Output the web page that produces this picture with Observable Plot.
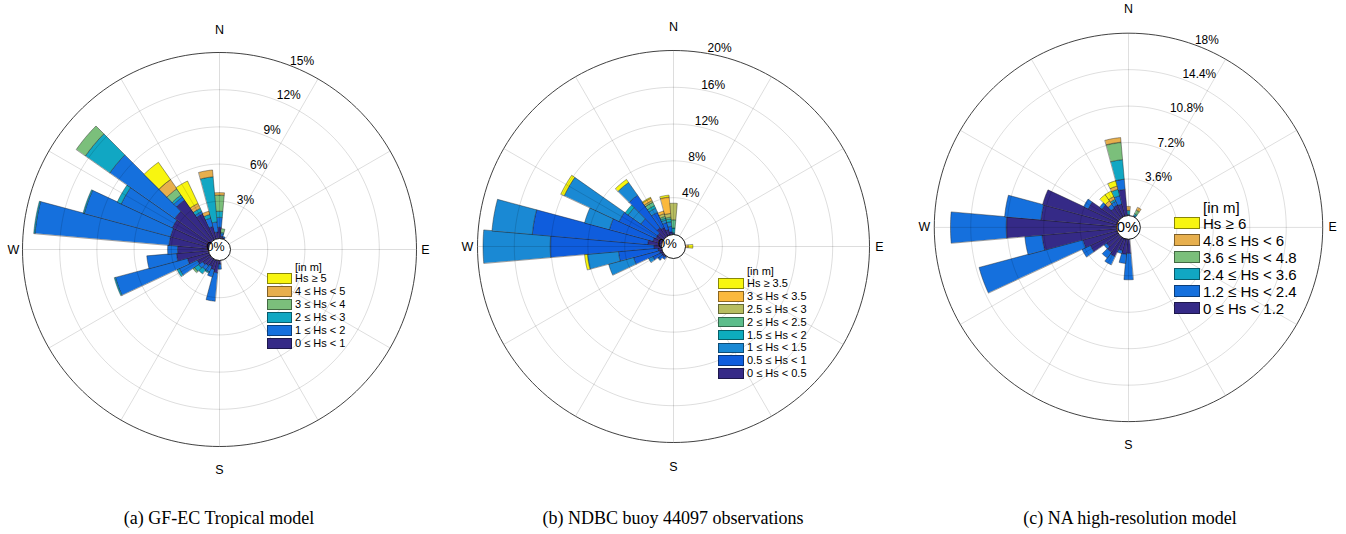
<!DOCTYPE html>
<html>
<head>
<meta charset="utf-8">
<script src="https://cdn.jsdelivr.net/npm/d3@7"></script>
<script src="https://cdn.jsdelivr.net/npm/@observablehq/plot@0.6"></script>
<style>
  body { margin: 0; background: #fff; }
  #page { position: relative; width: 1346px; height: 534px; overflow: hidden; font-family: "Liberation Sans", Arial, sans-serif; color: #000; }
  .rose { position: absolute; }
  .rose svg { overflow: visible; }
  .caption { position: absolute; top: 507px; width: 420px; text-align: center; font-family: "Liberation Serif", "Times New Roman", serif; font-size: 18px; line-height: 22px; }
  .lg { position: absolute; white-space: nowrap; }
  .sw { position: absolute; box-sizing: border-box; border: 1px solid rgba(0,0,0,0.45); }
</style>
</head>
<body>
<div id="page"></div>
<script>
// ---- (a) GF-EC Tropical model: frequency (%) per 10° direction bin and Hs class ----
const gfecDirs   = [0, 10, 20, 180, 190, 200, 210, 220, 230, 240, 250, 260, 270, 280, 290, 300, 310, 320, 330, 340, 350];
const gfecHs0to1 = [0.9, 0.2, 0.1, 0.3, 1.0, 0.8, 0.6, 0.7, 0.8, 1.1, 1.8, 2.6, 2.5, 3.2, 3.2, 3.3, 3.5, 4.0, 2.3, 1.05, 0.53];
const gfecHs1to2 = [0.8, 0.2, 0.1, 0.4, 2.3, 0.6, 0.5, 0.4, 0.4, 1.6, 6.0, 2.4, 0.8, 10.85, 7.2, 4.55, 6.4, 0.3, 0.2, 0.7, 0.81];
const gfecHs2to3 = [0.5, 0.1, 0, 0, 0, 0, 0.1, 0.4, 0.4, 0.2, 0.1, 0, 0, 0.1, 0.1, 0.35, 2.4, 0.2, 0.28, 0.3, 3.66];
const gfecHs3to4 = [1.3, 0.3, 0, 0, 0, 0, 0, 0, 0.15, 0, 0, 0, 0, 0, 0, 0, 0.9, 0.6, 0, 0, 0];
const gfecHs4to5 = [0.2, 0, 0, 0, 0, 0, 0, 0, 0, 0, 0, 0, 0, 0, 0, 0, 0, 0.9, 0.43, 0.27, 0.55];
const gfecHs5up  = [0, 0, 0, 0, 0, 0, 0, 0, 0, 0, 0, 0, 0, 0, 0, 0, 0, 1.7, 2.0, 0, 0];
const gfecTicks  = [3, 6, 9, 12, 15];
const gfecLegend = ["Hs \u2265 5", "4 \u2264 Hs < 5", "3 \u2264 Hs < 4", "2 \u2264 Hs < 3", "1 \u2264 Hs < 2", "0 \u2264 Hs < 1"];

// ---- (b) NDBC buoy 44097 observations ----
const ndbcDirs     = [0, 90, 220, 230, 240, 250, 260, 270, 280, 290, 300, 310, 320, 330, 340, 350];
const ndbcHs0to05  = [0, 0, 0.1, 0.2, 0.2, 0.3, 0.4, 0.8, 1.5, 1.0, 0.8, 0.8, 1.2, 1.0, 0.6, 0.3];
const ndbcHs05to1  = [0.1, 0, 0.3, 0.5, 1.0, 2.9, 4.3, 11.3, 12.6, 4.9, 4.4, 2.2, 4.3, 1.8, 0.8, 0.6];
const ndbcHs1to15  = [0.1, 0, 0, 0.1, 0.5, 2.8, 3.4, 7.3, 4.4, 2.8, 6.6, 1.7, 1.7, 0.5, 0.3, 0.5];
const ndbcHs15to2  = [0.5, 0, 0, 0, 0, 0, 0, 0, 0, 0, 0, 0.4, 0, 0.3, 0.2, 0.3];
const ndbcHs2to25  = [0.9, 0, 0, 0, 0, 0, 0, 0, 0, 0, 0, 0, 0, 0.4, 0.2, 0.2];
const ndbcHs25to3  = [1.8, 0, 0, 0, 0, 0, 0, 0, 0, 0, 0, 0, 0, 0.2, 0.3, 0.4];
const ndbcHs3to35  = [0, 0.3, 0, 0, 0, 0, 0, 0, 0, 0, 0, 0, 0, 0.3, 0.3, 1.8];
const ndbcHs35up   = [0, 0.5, 0, 0, 0, 0, 0.3, 0, 0, 0, 0.4, 0, 0.4, 0.1, 0, 0.2];
const ndbcTicks    = [4, 8, 12, 16, 20];
const ndbcLegend   = ["Hs \u2265 3.5", "3 \u2264 Hs < 3.5", "2.5 \u2264 Hs < 3", "2 \u2264 Hs < 2.5", "1.5 \u2264 Hs < 2", "1 \u2264 Hs < 1.5", "0.5 \u2264 Hs < 1", "0 \u2264 Hs < 0.5"];

// ---- (c) NA high-resolution model ----
const naDirs      = [0, 30, 180, 190, 200, 210, 220, 230, 240, 250, 260, 270, 280, 290, 300, 310, 320, 330, 340, 350];
const naHs0to12   = [0, 0, 1.4, 1.5, 1.2, 2.0, 1.8, 1.5, 3.0, 3.5, 7.4, 10.9, 7.5, 7.6, 3.2, 2.0, 1.2, 1.3, 1.24, 2.6];
const naHs12to24  = [0.1, 0.1, 2.6, 0.9, 0.3, 0.9, 0.7, 0.3, 0.9, 10.6, 1.7, 5.5, 3.6, 0, 0.5, 0.3, 0.45, 0.4, 0.83, 1.0];
const naHs24to36  = [0.4, 0.2, 0, 0, 0, 0, 0, 0, 0, 0, 0, 0, 0, 0, 0, 0, 0, 0.2, 0.66, 1.94];
const naHs36to48  = [0, 0.4, 0, 0, 0, 0, 0, 0, 0, 0, 0, 0, 0, 0, 0, 0, 0, 0, 0, 1.73];
const naHs48to6   = [0.4, 0.3, 0, 0, 0, 0, 0, 0, 0, 0, 0, 0, 0, 0, 0, 0, 0.4, 0.3, 0.33, 0.46];
const naHs6up     = [0, 0, 0, 0, 0, 0, 0, 0, 0, 0, 0, 0, 0, 0, 0, 0, 0.75, 0.6, 0.54, 0];
const naTicks     = [3.6, 7.2, 10.8, 14.4, 18];
const naLegend    = ["Hs \u2265 6", "4.8 \u2264 Hs < 6", "3.6 \u2264 Hs < 4.8", "2.4 \u2264 Hs < 3.6", "1.2 \u2264 Hs < 2.4", "0 \u2264 Hs < 1.2"];

const compassText = ["N", "E", "S", "W"];
const compassBearing = [0, 90, 180, 270];
const captions = ["(a) GF-EC Tropical model", "(b) NDBC buoy 44097 observations", "(c) NA high-resolution model"];

// parula-like ramps, lowest class first
const parula6 = ["#352a87", "#1570dd", "#11a7c3", "#7bbf7b", "#e7af4d", "#f8f510"];
const parula8 = ["#352a87", "#0f5ddd", "#1a89d4", "#0dacbd", "#5cbd8b", "#b7bd60", "#fbb93d", "#f8f70f"];

const panels = [
  { cx: 219, cy: 249, r0: 11, rMax: 197, ticks: gfecTicks, labelAngle: 21, dirs: gfecDirs,
    bins: [gfecHs0to1, gfecHs1to2, gfecHs2to3, gfecHs3to4, gfecHs4to5, gfecHs5up], colors: parula6,
    zero: { dx: -4, dy: 3, size: 12.5 },
    legend: { labels: gfecLegend, swLeft: 267, swW: 25, swH: 11, textLeft: 295, y0: 278.5, pitch: 12.9, font: 11, headY: 267 } },
  { cx: 673, cy: 246, r0: 12, rMax: 196, ticks: ndbcTicks, labelAngle: 10, dirs: ndbcDirs,
    bins: [ndbcHs0to05, ndbcHs05to1, ndbcHs1to15, ndbcHs15to2, ndbcHs2to25, ndbcHs25to3, ndbcHs3to35, ndbcHs35up], colors: parula8,
    zero: { dx: -6, dy: 3, size: 13 },
    legend: { labels: ndbcLegend, swLeft: 718, swW: 26, swH: 10.5, textLeft: 747, y0: 283.5, pitch: 12.86, font: 11, headY: 271 } },
  { cx: 1130, cy: 229, r0: 12, rMax: 196, ticks: naTicks, labelAngle: 20, dirs: naDirs,
    bins: [naHs0to12, naHs12to24, naHs24to36, naHs36to48, naHs48to6, naHs6up], colors: parula6,
    zero: { dx: -1, dy: 0, size: 15 },
    legend: { labels: naLegend, swLeft: 1174, swW: 26, swH: 12.5, textLeft: 1203, y0: 223, pitch: 17, font: 15, headY: 207.5 } }
];

const rad = (deg) => deg * Math.PI / 180;
const HALF_W = 220, HALF_H = 230;

// Stacked sector outlines (one closed polygon per direction and Hs class)
function sectorRows(p) {
  const vMax = p.ticks[p.ticks.length - 1];
  const radius = d3.scaleLinear([0, vMax], [p.r0, p.rMax]);
  const rows = [];
  p.dirs.forEach((dir, i) => {
    let cum = 0;
    p.bins.forEach((bin, j) => {
      const v = bin[i];
      if (!v) return;
      const rIn = radius(cum), rOut = radius(cum + v);
      cum += v;
      const id = dir + "-" + j, color = p.colors[j];
      for (let s = 0; s <= 20; s++) {
        const a = rad(dir - 5 + s * 0.5);
        rows.push({ id, color, x: rIn * Math.sin(a), y: rIn * Math.cos(a) });
      }
      for (let s = 20; s >= 0; s--) {
        const a = rad(dir - 5 + s * 0.5);
        rows.push({ id, color, x: rOut * Math.sin(a), y: rOut * Math.cos(a) });
      }
    });
  });
  return { rows, radius };
}

function circleRows(r, key) {
  const pts = [];
  for (let a = 0; a < 360; a += 2) pts.push({ key, x: r * Math.sin(rad(a)), y: r * Math.cos(rad(a)) });
  return pts;
}

function drawPanel(p) {
  const { rows, radius } = sectorRows(p);
  const inner = p.ticks.slice(0, -1).flatMap((t) => circleRows(radius(t), t));
  const outer = circleRows(radius(p.ticks[p.ticks.length - 1]), "outer");
  const spokes = d3.range(0, 360, 30).map((a) => ({
    x1: p.r0 * Math.sin(rad(a)), y1: p.r0 * Math.cos(rad(a)),
    x2: p.rMax * Math.sin(rad(a)), y2: p.rMax * Math.cos(rad(a))
  }));
  const ringLabels = p.ticks.map((t) => ({
    text: t + "%",
    x: radius(t) * Math.sin(rad(p.labelAngle)),
    y: radius(t) * Math.cos(rad(p.labelAngle))
  }));
  const compass = compassText.map((t, i) => {
    const b = compassBearing[i];
    const dist = (b === 0 || b === 180) ? 220 : 206;
    return { text: t, x: dist * Math.sin(rad(b)), y: dist * Math.cos(rad(b)) };
  });

  const chart = Plot.plot({
    width: HALF_W * 2, height: HALF_H * 2, margin: 0,
    x: { domain: [-HALF_W, HALF_W], axis: null },
    y: { domain: [-HALF_H, HALF_H], axis: null },
    color: { type: "identity" },
    style: { fontFamily: "'Liberation Sans', Arial, sans-serif", background: "transparent", overflow: "visible", color: "#000" },
    marks: [
      Plot.line(rows, { x: "x", y: "y", z: "id", fill: "color", stroke: "#1a1a1a", strokeOpacity: 0.7, strokeWidth: 0.6, strokeLinejoin: "miter", curve: "linear-closed" }),
      Plot.line(inner, { x: "x", y: "y", z: "key", stroke: "#000", strokeOpacity: 0.17, strokeWidth: 0.8, curve: "linear-closed" }),
      Plot.link(spokes, { x1: "x1", y1: "y1", x2: "x2", y2: "y2", stroke: "#000", strokeOpacity: 0.17, strokeWidth: 0.8 }),
      Plot.line(outer, { x: "x", y: "y", z: "key", stroke: "#2b2b2b", strokeWidth: 0.9, curve: "linear-closed" }),
      Plot.dot([{ x: 0, y: 0 }], { x: "x", y: "y", r: p.r0, fill: "white", stroke: "#000", strokeWidth: 0.9 }),
      Plot.text([{ x: 0, y: 0, text: "0%" }], { x: "x", y: "y", text: "text", dx: p.zero.dx, dy: -p.zero.dy, fontSize: p.zero.size, fill: "#000" }),
      Plot.text(ringLabels, { x: "x", y: "y", text: "text", textAnchor: "start", lineAnchor: "bottom", dy: -1, fontSize: 12, fill: "#000" }),
      Plot.text(compass, { x: "x", y: "y", text: "text", fontSize: 12.5, fill: "#000" })
    ]
  });
  const holder = document.createElement("div");
  holder.className = "rose";
  holder.style.left = (p.cx - HALF_W) + "px";
  holder.style.top = (p.cy - HALF_H) + "px";
  holder.appendChild(chart);
  return holder;
}

function drawLegend(page, p) {
  const L = p.legend;
  const head = document.createElement("div");
  head.className = "lg";
  head.textContent = "[in m]";
  head.style.cssText += `left:${L.textLeft}px;top:${L.headY - L.pitch / 2}px;line-height:${L.pitch}px;font-size:${L.font}px;`;
  page.appendChild(head);
  const colorsTopDown = p.colors.slice().reverse();
  L.labels.forEach((lab, i) => {
    const yc = L.y0 + i * L.pitch;
    const sw = document.createElement("div");
    sw.className = "sw";
    sw.style.cssText += `left:${L.swLeft}px;top:${yc - L.swH / 2}px;width:${L.swW}px;height:${L.swH}px;background:${colorsTopDown[i]};`;
    page.appendChild(sw);
    const t = document.createElement("div");
    t.className = "lg";
    t.textContent = lab;
    t.style.cssText += `left:${L.textLeft}px;top:${yc - L.pitch / 2}px;line-height:${L.pitch}px;font-size:${L.font}px;`;
    page.appendChild(t);
  });
}

const page = document.getElementById("page");
panels.forEach((p, i) => {
  page.appendChild(drawPanel(p));
  drawLegend(page, p);
  const cap = document.createElement("div");
  cap.className = "caption";
  cap.textContent = captions[i];
  cap.style.left = (p.cx - 210) + "px";
  page.appendChild(cap);
});
</script>
</body>
</html>
